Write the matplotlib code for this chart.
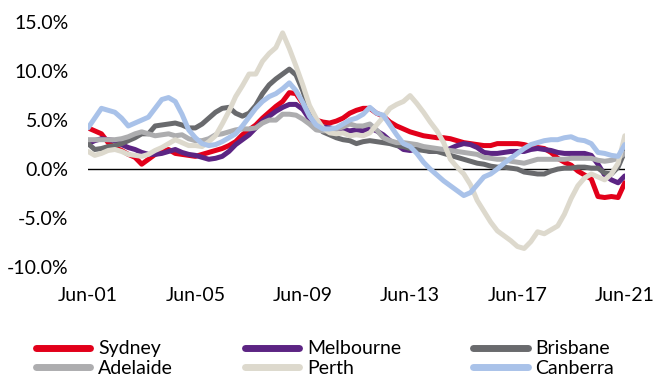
import numpy as np
import matplotlib
matplotlib.use("Agg")
import matplotlib.pyplot as plt

# quarterly, Jun-01 .. Jun-21 (81 points), % change
sydney = [4.2, 3.9, 3.6, 2.7, 2.2, 1.9, 1.5, 1.2, 0.5, 1.0, 1.5, 1.8, 2.0, 1.6, 1.5, 1.4,
          1.3, 1.5, 1.7, 1.9, 2.1, 2.4, 2.8, 3.5, 4.0, 4.5, 5.2, 5.8, 6.4, 6.9, 7.8, 7.7,
          6.7, 5.6, 5.0, 4.8, 4.7, 4.9, 5.2, 5.7, 6.0, 6.2, 6.2, 5.7, 5.4, 4.8, 4.4, 4.1,
          3.8, 3.6, 3.4, 3.3, 3.2, 3.2, 3.1, 2.9, 2.7, 2.6, 2.5, 2.4, 2.4, 2.6, 2.6, 2.6,
          2.6, 2.5, 2.3, 2.2, 2.1, 1.7, 1.1, 0.7, 0.4, -0.2, -0.6, -1.0, -2.8, -2.9, -2.8,
          -2.9, -1.4]
melbourne = [2.6, 2.9, 3.1, 3.0, 2.9, 2.5, 2.2, 2.0, 1.7, 1.5, 1.5, 1.6, 1.8, 2.0, 1.7, 1.5,
             1.4, 1.2, 1.0, 1.1, 1.3, 1.8, 2.5, 3.0, 3.5, 4.2, 4.9, 5.4, 5.9, 6.3, 6.6, 6.6,
             6.1, 5.1, 4.6, 4.3, 4.2, 4.1, 4.0, 3.9, 4.0, 3.9, 4.2, 3.9, 3.5, 2.9, 2.5, 2.0,
             1.9, 2.0, 2.0, 1.8, 1.8, 1.8, 2.1, 2.4, 2.6, 2.5, 2.2, 1.7, 1.6, 1.6, 1.7, 1.8,
             1.8, 1.8, 2.0, 2.1, 2.0, 1.9, 1.7, 1.6, 1.6, 1.6, 1.6, 1.4, 0.5, -0.6, -1.1,
             -1.4, -0.7]
brisbane = [2.6, 2.0, 2.1, 2.3, 2.4, 2.6, 2.9, 3.2, 3.6, 3.6, 4.4, 4.5, 4.6, 4.7, 4.5, 4.2,
            4.2, 4.6, 5.2, 5.8, 6.2, 6.3, 5.7, 5.4, 5.7, 6.5, 7.7, 8.6, 9.2, 9.7, 10.2, 9.6,
            8.0, 6.0, 4.5, 3.8, 3.5, 3.2, 3.0, 2.9, 2.6, 2.8, 2.9, 2.8, 2.7, 2.6, 2.4, 2.3,
            2.1, 2.0, 1.9, 1.8, 1.8, 1.6, 1.4, 1.2, 1.0, 0.8, 0.6, 0.5, 0.3, 0.2, 0.2, 0.1,
            0.0, -0.3, -0.4, -0.5, -0.5, -0.2, 0.0, 0.1, 0.1, 0.2, 0.2, 0.1, 0.1, -0.4, -0.5,
            0.2, 1.8]
adelaide = [3.0, 3.0, 3.0, 3.0, 3.0, 3.1, 3.3, 3.6, 3.8, 3.6, 3.4, 3.5, 3.6, 3.4, 3.5, 3.1,
            2.9, 2.9, 3.1, 3.5, 3.6, 3.8, 4.0, 4.1, 4.1, 4.2, 4.7, 5.0, 5.0, 5.6, 5.6, 5.5,
            5.1, 4.6, 4.0, 3.9, 3.9, 4.1, 4.3, 4.6, 4.4, 4.4, 4.6, 4.0, 3.2, 2.9, 2.7, 2.7,
            2.6, 2.5, 2.3, 2.2, 2.1, 2.0, 1.9, 1.8, 1.7, 1.6, 1.5, 1.2, 1.1, 1.0, 1.0, 0.8,
            0.7, 0.6, 0.8, 1.0, 1.0, 1.0, 1.0, 1.0, 1.1, 1.1, 1.1, 1.1, 0.9, 0.8, 0.9,
            1.1, 1.6]
perth = [1.8, 1.4, 1.6, 1.9, 2.0, 1.8, 1.5, 1.4, 1.3, 1.5, 1.9, 2.2, 2.6, 3.0, 2.7, 2.4,
         2.4, 2.3, 2.8, 3.4, 4.6, 5.9, 7.4, 8.5, 9.7, 9.7, 11.0, 11.8, 12.4, 13.9, 12.3, 10.5,
         8.6, 6.5, 5.2, 4.2, 3.7, 3.6, 3.7, 3.4, 3.5, 3.4, 3.7, 4.5, 5.3, 6.2, 6.6, 6.9,
         7.5, 6.7, 5.8, 4.8, 3.9, 2.7, 1.0, 0.2, -0.5, -1.6, -3.2, -4.3, -5.4, -6.3, -6.8, -7.3,
         -7.9, -8.1, -7.4, -6.4, -6.6, -6.2, -5.8, -4.6, -3.0, -1.7, -0.9, -0.5, -0.8, -1.1, -0.5,
         0.6, 3.4]
canberra = [4.2, 5.2, 6.2, 6.0, 5.8, 5.2, 4.4, 4.7, 5.0, 5.3, 6.2, 7.1, 7.3, 6.9, 5.6, 4.0,
            3.2, 2.6, 2.4, 2.5, 2.8, 3.2, 3.6, 4.4, 5.3, 6.2, 6.9, 7.4, 7.7, 8.2, 8.8, 8.0,
            6.8, 5.4, 4.5, 4.1, 4.1, 4.2, 4.6, 5.0, 5.2, 5.6, 6.3, 5.7, 5.5, 4.5, 3.5, 2.6,
            2.3, 1.6, 0.7, 0.0, -0.6, -1.2, -1.7, -2.2, -2.7, -2.4, -1.6, -0.8, -0.5, 0.0, 0.6, 1.1,
            1.6, 2.1, 2.5, 2.7, 2.9, 3.0, 3.0, 3.2, 3.3, 3.0, 2.9, 2.6, 1.7, 1.6, 1.4,
            1.3, 2.5]

cities = ["Sydney", "Melbourne", "Brisbane", "Adelaide", "Perth", "Canberra"]
colors = ["#e2001a", "#5c2483", "#696a6d", "#adadaf", "#ddd9cd", "#a9c2e9"]
tick_labels = ["Jun-01", "Jun-05", "Jun-09", "Jun-13", "Jun-17", "Jun-21"]
y_ticks = [15, 10, 5, 0, -5, -10]

plt.rcParams["font.family"] = ["Lato", "DejaVu Sans"]

fig = plt.figure(figsize=(6.57, 3.81), dpi=100)
ax = fig.add_axes([0.134, 0.299, 0.817, 0.643])

x = np.arange(len(sydney))
series = [sydney, melbourne, brisbane, adelaide, perth, canberra]
lines = {}
for name, vals, c in zip(cities, series, colors):
    ln, = ax.plot(x, vals, color=c, lw=3.6, solid_capstyle="round",
                  solid_joinstyle="round", label=name)
    lines[name] = ln

ax.axhline(0, color="black", lw=1.0, zorder=0)

ax.set_xlim(0, 80)
ax.set_ylim(-10, 15)
ax.set_xticks(np.arange(0, 81, 16))
ax.set_xticklabels(tick_labels)
ax.set_yticks(y_ticks)
ax.set_yticklabels([f"{v:.1f}%" for v in y_ticks])
ax.tick_params(axis="both", length=0, labelsize=14, colors="black")
ax.tick_params(axis="y", pad=14)
ax.tick_params(axis="x", pad=14)
for s in ax.spines.values():
    s.set_visible(False)

# column-major order so the rows read Sydney/Melbourne/Brisbane, Adelaide/Perth/Canberra
order = ["Sydney", "Adelaide", "Melbourne", "Perth", "Brisbane", "Canberra"]
leg = fig.legend([lines[n] for n in order], order, ncol=3, frameon=False,
                 loc="upper left", bbox_to_anchor=(0.040, 0.132),
                 fontsize=14, handlelength=2.8, handletextpad=0.4,
                 columnspacing=3.7, labelspacing=0.12, borderpad=0)
for h in leg.legend_handles:
    h.set_linewidth(5)
    h.set_solid_capstyle("round")

fig.savefig("out.png", dpi=100)
